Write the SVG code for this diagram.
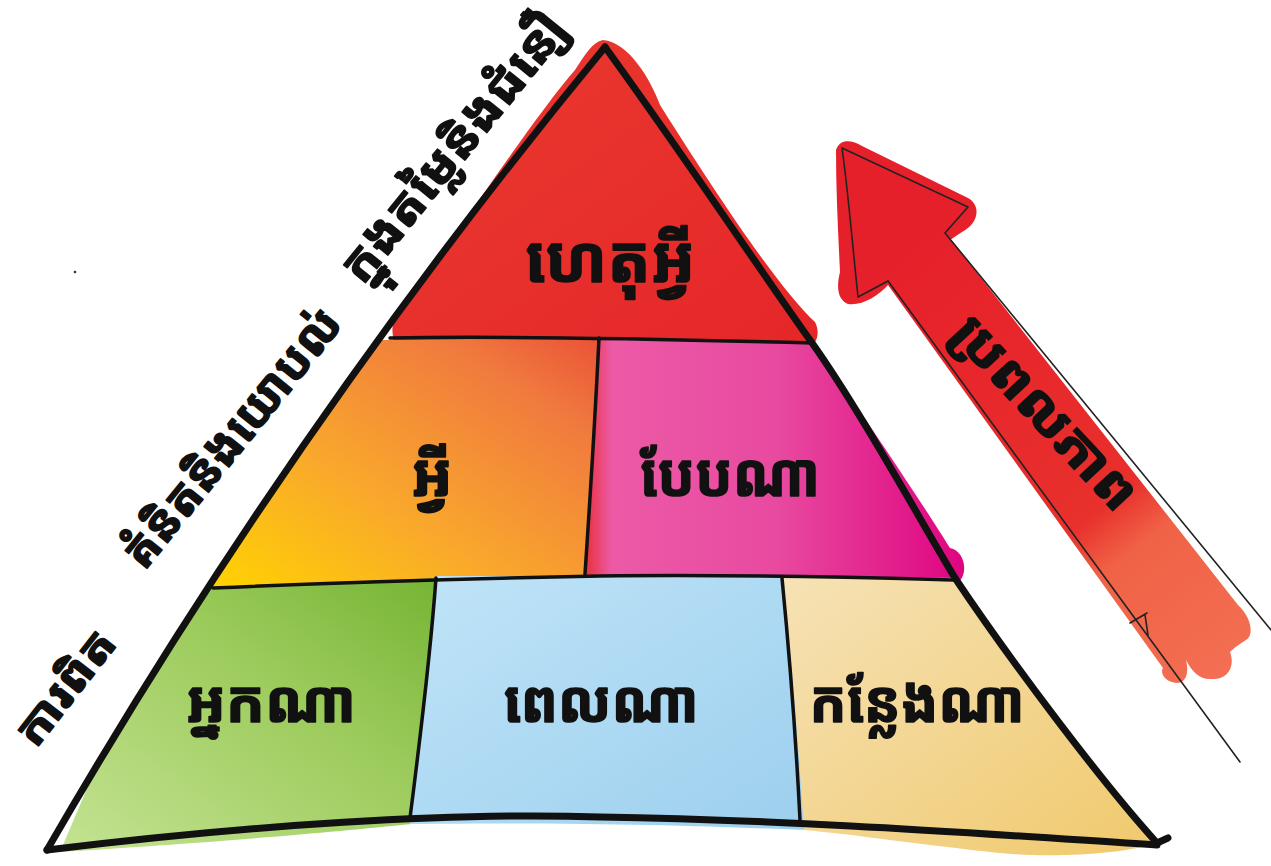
<svg xmlns="http://www.w3.org/2000/svg" width="1271" height="866" viewBox="0 0 1271 866">
<style>
.kh{font-family:"Noto Sans Khmer","Khmer OS","Noto Sans",sans-serif;font-weight:bold;fill:#111;stroke:#111;stroke-width:1.6;stroke-linejoin:round;text-anchor:middle}
.edge{fill:none;stroke:#111;stroke-width:7;stroke-linecap:round;stroke-linejoin:round}
.div{fill:none;stroke:#111;stroke-width:3.5;stroke-linecap:round}
.thin{fill:none;stroke:#222;stroke-width:1.6;stroke-linecap:round;stroke-linejoin:round}
</style>
<defs>
<linearGradient id="gRed" x1="0" y1="0" x2="1" y2="1"><stop offset="0" stop-color="#ea3a30"/><stop offset="1" stop-color="#e52628"/></linearGradient>
<linearGradient id="gOr" x1="0" y1="1" x2="1" y2="0"><stop offset="0" stop-color="#ffd400"/><stop offset="0.4" stop-color="#f9a82c"/><stop offset="0.8" stop-color="#f07a3e"/><stop offset="1" stop-color="#ea5238"/></linearGradient>
<linearGradient id="gPk" x1="0" y1="0" x2="1" y2="0"><stop offset="0" stop-color="#e8303a"/><stop offset="0.07" stop-color="#ec5aa6"/><stop offset="0.5" stop-color="#e84aa0"/><stop offset="1" stop-color="#df0580"/></linearGradient>
<linearGradient id="gGr" x1="0" y1="1" x2="1" y2="0"><stop offset="0" stop-color="#c4e392"/><stop offset="0.6" stop-color="#9ccb5c"/><stop offset="1" stop-color="#76b434"/></linearGradient>
<linearGradient id="gBl" x1="0" y1="0" x2="1" y2="1"><stop offset="0" stop-color="#c0e4f8"/><stop offset="1" stop-color="#9ccfee"/></linearGradient>
<linearGradient id="gBg" x1="0" y1="0" x2="1" y2="1"><stop offset="0" stop-color="#f6e2b6"/><stop offset="1" stop-color="#f0c96c"/></linearGradient>
<linearGradient id="gAr" gradientUnits="userSpaceOnUse" x1="900" y1="250" x2="1220" y2="670"><stop offset="0" stop-color="#e6202a"/><stop offset="0.62" stop-color="#e8302c"/><stop offset="0.72" stop-color="#f06246"/><stop offset="1" stop-color="#f36e52"/></linearGradient>
</defs>

<g id="fills">
<path d="M603,40 C628,42 650,78 660,105 C720,200 780,290 815,322 C822,336 814,348 805,350 L395,346 C388,322 396,306 410,298 C480,200 540,110 575,70 C585,55 592,42 603,40 Z" fill="url(#gRed)"/>
<path d="M377,340 L600,338 L592,582 L206,591 L290,465 Z" fill="url(#gOr)"/>
<path d="M598,338 L812,342 C860,410 920,500 950,548 C968,552 968,580 955,584 L585,580 Z" fill="url(#gPk)"/>
<path d="M206,588 L438,578 C430,660 420,740 412,824 C330,832 250,840 60,852 L97,765 L148,682 Z" fill="url(#gGr)"/>
<path d="M436,576 L784,576 C792,660 798,740 806,830 C700,826 600,822 410,824 C418,740 428,660 436,576 Z" fill="url(#gBl)"/>
<path d="M782,576 L957,578 C1010,660 1100,780 1160,842 C1120,856 1040,858 990,852 C900,842 850,834 804,830 C798,740 792,660 782,576 Z" fill="url(#gBg)"/>
</g>

<g id="arrow">
<path d="M836,150 C840,138 852,140 862,146 L968,198 C982,206 978,224 962,232 L950,240 L945,232 L1238,605 C1252,618 1254,636 1246,640 C1236,646 1232,650 1230,652 C1236,668 1226,680 1212,679 C1200,680 1192,672 1186,660 C1190,676 1184,686 1172,682 C1164,680 1160,672 1163,668 L888,285 C878,296 862,306 848,304 C838,300 836,288 840,272 C838,230 836,190 836,150 Z" fill="url(#gAr)"/>
<path class="thin" d="M888,281 L858,297 C852,240 848,190 842,148 L968,207 L945,233 L1271,630"/>
<path class="thin" d="M888,281 L1240,762"/>
<path class="thin" d="M1130,623 L1147,613 M1145,615 L1148,635"/>
<text class="kh" font-size="52" transform="translate(1045,413) rotate(47)" y="17" textLength="245" lengthAdjust="spacingAndGlyphs">ប្រពលភាព</text>
</g>

<g id="connectors">
<path class="div" d="M390,338 C500,336 700,340 812,343"/>
<path class="div" d="M599,338 C595,420 590,500 585,574"/>
<path class="div" d="M213,588 C350,582 500,578 600,576 C750,574 880,578 957,580"/>
<path class="div" d="M436,578 C430,660 420,740 410,818"/>
<path class="div" d="M782,578 C790,660 796,740 800,820"/>
</g>

<g id="pyramid">
<path class="edge" d="M47,850 Q293,425 605,47"/>
<path class="edge" d="M605,47 C680,150 760,270 810,340 S920,520 955,578 C1010,660 1100,780 1157,843 L1168,838"/>
<path class="edge" d="M47,850 C250,825 450,812 600,817 C800,820 1000,835 1157,845"/>
</g>

<g id="node-why"><text class="kh" x="610" y="282" font-size="64" textLength="170" lengthAdjust="spacingAndGlyphs">ហេតុអ្វី</text></g>
<g id="node-what"><text class="kh" x="432" y="496" font-size="60">អ្វី</text></g>
<g id="node-how"><text class="kh" x="730" y="496" font-size="60" textLength="180" lengthAdjust="spacingAndGlyphs">បែបណា</text></g>
<g id="node-who"><text class="kh" x="271" y="722" font-size="58" textLength="170" lengthAdjust="spacingAndGlyphs">អ្នកណា</text></g>
<g id="node-when"><text class="kh" x="601" y="722" font-size="58" textLength="195" lengthAdjust="spacingAndGlyphs">ពេលណា</text></g>
<g id="node-where"><text class="kh" x="917" y="722" font-size="58" textLength="215" lengthAdjust="spacingAndGlyphs">កន្លែងណា</text></g>

<g id="label-values"><text class="kh" font-size="48" transform="translate(454,148) rotate(-51)" y="16" textLength="330" lengthAdjust="spacingAndGlyphs">ក្នុងតម្លៃនិងជំនឿ</text></g>
<g id="label-opinions"><text class="kh" font-size="48" transform="translate(232,438) rotate(-51)" y="16" textLength="318" lengthAdjust="spacingAndGlyphs">គំនិតនិងយោបល់</text></g>
<g id="label-facts"><text class="kh" font-size="44" transform="translate(66,688) rotate(-52)" y="14" textLength="134" lengthAdjust="spacingAndGlyphs">ការពិត</text></g>
<circle cx="75" cy="272" r="1.3" fill="#333"/>
</svg>
